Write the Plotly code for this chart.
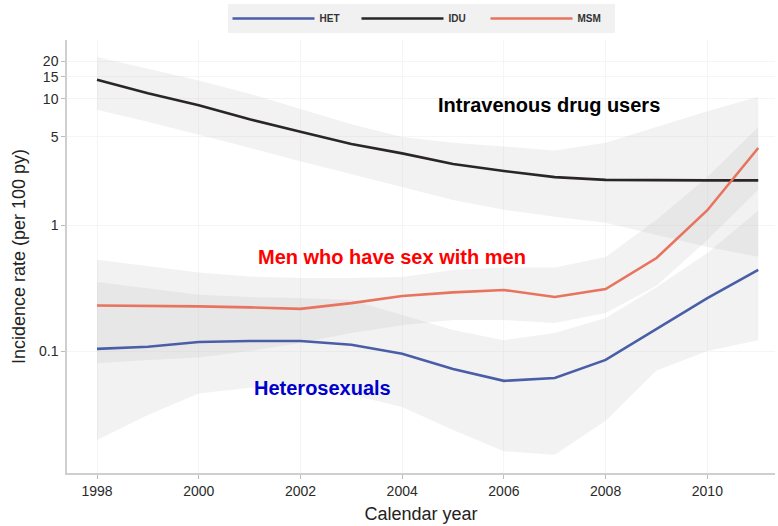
import math
import plotly.graph_objects as go

years = list(range(1998, 2012))

het = [0.104, 0.108, 0.118, 0.120, 0.120, 0.112, 0.095, 0.072, 0.058, 0.061, 0.085, 0.150, 0.263, 0.44]
het_hi = [0.353, 0.316, 0.280, 0.268, 0.263, 0.254, 0.193, 0.147, 0.122, 0.139, 0.183, 0.32, 0.60, 1.30]
het_lo = [0.0197, 0.031, 0.046, 0.051, 0.052, 0.045, 0.036, 0.0236, 0.0160, 0.0150, 0.028, 0.070, 0.100, 0.122]

idu = [14.2, 11.1, 8.9, 6.9, 5.5, 4.4, 3.7, 3.05, 2.68, 2.40, 2.28, 2.26, 2.26, 2.26]
idu_hi = [21.5, 17.3, 14.0, 11.0, 8.3, 6.3, 5.0, 4.5, 4.2, 3.9, 4.5, 6.0, 8.0, 10.4]
idu_lo = [8.2, 6.6, 5.2, 4.1, 3.2, 2.5, 2.0, 1.58, 1.32, 1.16, 1.04, 0.83, 0.67, 0.56]

msm = [0.230, 0.229, 0.226, 0.222, 0.216, 0.240, 0.273, 0.292, 0.305, 0.268, 0.31, 0.547, 1.31, 4.08]
msm_hi = [0.53, 0.47, 0.42, 0.39, 0.38, 0.38, 0.387, 0.44, 0.46, 0.46, 0.557, 1.10, 2.40, 6.0]
msm_lo = [0.080, 0.085, 0.089, 0.100, 0.116, 0.139, 0.160, 0.176, 0.176, 0.167, 0.20, 0.33, 0.76, 1.90]

groups = ["HET", "IDU", "MSM"]
colors = {"HET": "#4a5ea8", "IDU": "#2a2626", "MSM": "#e8735e"}
series = {"HET": (het, het_lo, het_hi), "IDU": (idu, idu_lo, idu_hi), "MSM": (msm, msm_lo, msm_hi)}

x_ticks = [1998, 2000, 2002, 2004, 2006, 2008, 2010]
y_ticks = [0.1, 1, 5, 10, 15, 20]
y_tick_text = ["0.1", "1", "5", "10", "15", "20"]

label_texts = ["Intravenous drug users", "Men who have sex with men", "Heterosexuals"]
label_x = [2006.88, 2003.79, 2002.43]
label_y = [8.96, 0.557, 0.0508]
label_colors = ["#000000", "#ff0000", "#0000cc"]

fig = go.Figure()

for g in groups:
    val, lo, hi = series[g]
    fig.add_trace(go.Scatter(
        x=years + years[::-1], y=hi + lo[::-1], mode="lines", fill="toself",
        fillcolor="rgba(185,185,185,0.19)", line=dict(width=0), hoverinfo="skip", showlegend=False))

for g in groups:
    val, lo, hi = series[g]
    fig.add_trace(go.Scatter(
        x=years, y=val, mode="lines", name=g,
        line=dict(color=colors[g], width=2.6)))

font_family = "Liberation Sans, Arial, sans-serif"

for txt, lx, ly, c in zip(label_texts, label_x, label_y, label_colors):
    fig.add_annotation(x=lx, y=math.log10(ly), text="<b>%s</b>" % txt, showarrow=False,
                       font=dict(family=font_family, size=20, color=c), xanchor="center", yanchor="middle")

fig.update_layout(
    width=778, height=526,
    margin=dict(l=67, r=3, t=40, b=53, autoexpand=False),
    paper_bgcolor="white", plot_bgcolor="white",
    font=dict(family=font_family, color="#333333"),
    legend=dict(orientation="h", x=0.5, xanchor="center", y=1.083, yanchor="top",
                bgcolor="#f1f1f1", font=dict(size=10, color="#333333", family=font_family, weight="bold"),
                itemwidth=82, entrywidth=32, tracegroupgap=0),
    showlegend=True,
)

fig.update_xaxes(
    range=[1997.41, 2011.33], tickvals=x_ticks, ticktext=[str(t) for t in x_ticks],
    showgrid=True, gridcolor="#f5f5f5", gridwidth=1, zeroline=False,
    showline=True, linecolor="#cfcfcf", linewidth=1.5, ticks="outside", ticklen=4, tickcolor="#bbbbbb",
    tickfont=dict(size=14, color="#2a2a2a"),
    title=dict(text="Calendar year", font=dict(size=18, color="#222222"), standoff=10),
)
fig.update_yaxes(
    type="log", range=[-1.968, 1.468], tickvals=y_ticks, ticktext=y_tick_text,
    showgrid=True, gridcolor="#f5f5f5", gridwidth=1, zeroline=False,
    showline=True, linecolor="#cfcfcf", linewidth=1.5, ticks="outside", ticklen=4, tickcolor="#bbbbbb",
    tickfont=dict(size=14, color="#2a2a2a"),
    title=dict(text="Incidence rate (per 100 py)", font=dict(size=18, color="#222222"), standoff=9),
)

fig.write_html("out.html", config={"displayModeBar": False},
               post_script="document.body.style.margin='0';")
